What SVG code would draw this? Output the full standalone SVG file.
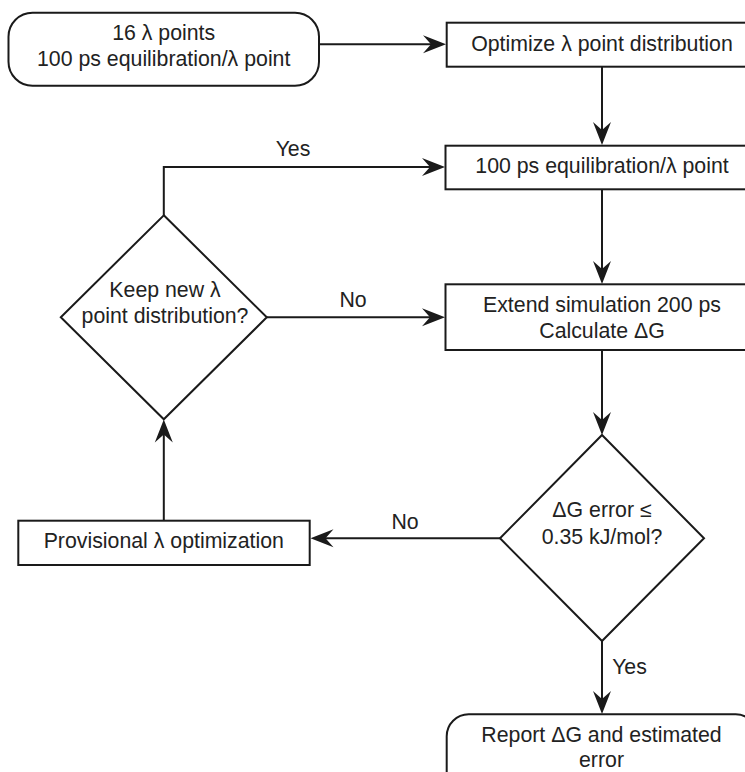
<svg xmlns="http://www.w3.org/2000/svg" width="745" height="772" viewBox="0 0 745 772">
  <defs>
    <style>
      .shape { fill: #ffffff; stroke: #1a1a1a; stroke-width: 2; }
      .edge { fill: none; stroke: #1a1a1a; stroke-width: 2; }
      text { font-family: "Liberation Sans", Arial, sans-serif; font-size: 21.3px; fill: #222222; text-anchor: middle; }
    </style>
    <marker id="arrow" markerUnits="userSpaceOnUse" markerWidth="26" markerHeight="20" refX="12" refY="9" orient="auto" overflow="visible">
      <path d="M0,0 L23,9 L0,18 L8,9 Z" fill="#1a1a1a" stroke="none"/>
    </marker>
  </defs>
  <rect x="0" y="0" width="745" height="772" fill="#ffffff"/>

  <g id="connectors">
    <path class="edge" d="M319,44.3 L435,44.3" marker-end="url(#arrow)"/>
    <path class="edge" d="M602,66.7 L602,134" marker-end="url(#arrow)"/>
    <path class="edge" d="M602,189.3 L602,273" marker-end="url(#arrow)"/>
    <path class="edge" d="M602,350 L602,424" marker-end="url(#arrow)"/>
    <path class="edge" d="M602,641 L602,703" marker-end="url(#arrow)"/>
    <path class="edge" d="M500,538.3 L321.5,538.3" marker-end="url(#arrow)"/>
    <path class="edge" d="M163.8,520.7 L163.8,430.5" marker-end="url(#arrow)"/>
    <path class="edge" d="M266.8,317.3 L434,317.3" marker-end="url(#arrow)"/>
    <path class="edge" d="M163.8,215.3 L163.8,167 L434,167" marker-end="url(#arrow)"/>
    <text x="293" y="156">Yes</text>
    <text x="353" y="307.3">No</text>
    <text x="405" y="529.3">No</text>
    <text x="629.5" y="674">Yes</text>
  </g>

  <g id="start">
    <rect class="shape" x="8.5" y="12.7" width="310.5" height="73" rx="24" ry="24"/>
    <text x="163.7" y="40">16 λ points</text>
    <text x="163.7" y="66">100 ps equilibration/λ point</text>
  </g>

  <g id="optimize">
    <rect class="shape" x="446.7" y="22.7" width="311" height="44"/>
    <text x="602" y="50.5">Optimize λ point distribution</text>
  </g>

  <g id="equilibration">
    <rect class="shape" x="445.5" y="145.7" width="313" height="43.6"/>
    <text x="602" y="173.3">100 ps equilibration/λ point</text>
  </g>

  <g id="extend">
    <rect class="shape" x="445.5" y="284.3" width="313" height="65.7"/>
    <text x="602" y="311.7">Extend simulation 200 ps</text>
    <text x="602" y="338.3">Calculate ΔG</text>
  </g>

  <g id="keep-decision">
    <polygon class="shape" points="163.8,215.3 266.8,317.3 163.8,419.3 60.8,317.3"/>
    <text x="165" y="296.7">Keep new λ</text>
    <text x="165" y="322.7">point distribution?</text>
  </g>

  <g id="error-decision">
    <polygon class="shape" points="602,435 704,538.3 602,641 500,538.3"/>
    <text x="602" y="517.3">ΔG error ≤</text>
    <text x="602" y="544.3">0.35 kJ/mol?</text>
  </g>

  <g id="provisional">
    <rect class="shape" x="18.3" y="520.7" width="291.4" height="44.3"/>
    <text x="163.8" y="548.3">Provisional λ optimization</text>
  </g>

  <g id="report">
    <rect class="shape" x="446.7" y="714.3" width="311" height="80" rx="22" ry="22"/>
    <text x="601.5" y="742">Report ΔG and estimated</text>
    <text x="601.5" y="767.3">error</text>
  </g>
</svg>
